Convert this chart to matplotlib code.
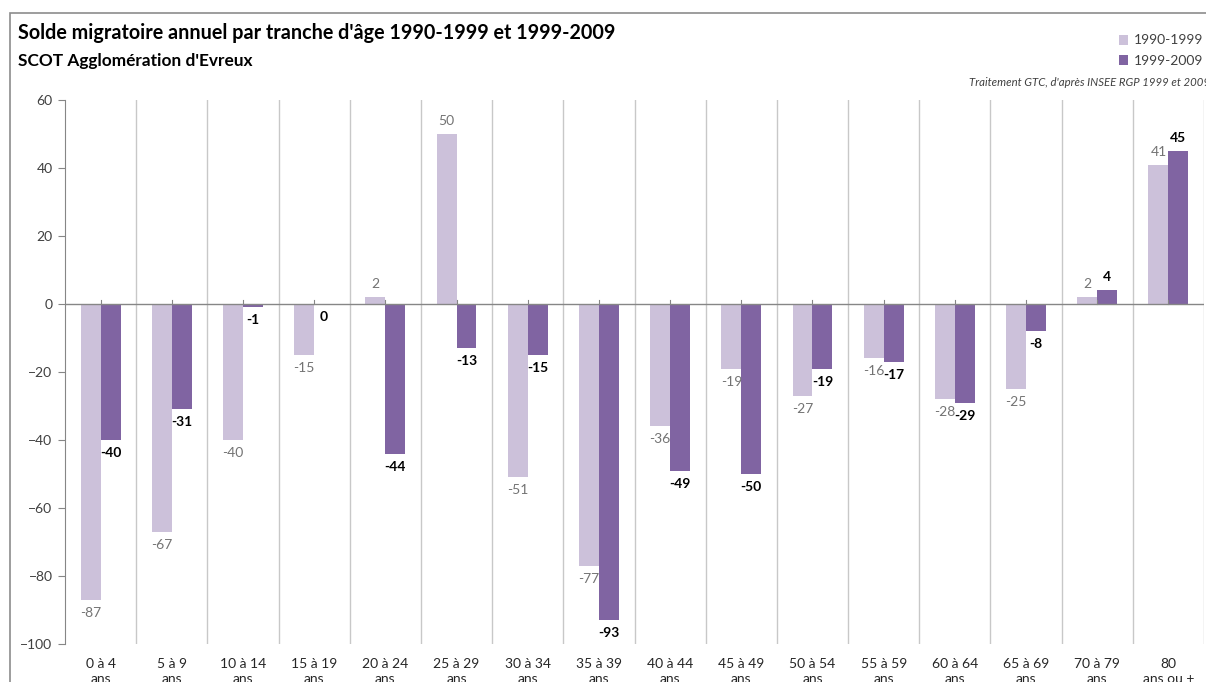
import matplotlib.pyplot as plt
import numpy as np
from matplotlib.patches import Rectangle

plt.rcParams['font.family'] = ['Lato', 'DejaVu Sans']

# Solde migratoire annuel, SCOT Agglomeration d'Evreux
tranches = ["0 à 4\nans", "5 à 9\nans", "10 à 14\nans", "15 à 19\nans", "20 à 24\nans",
            "25 à 29\nans", "30 à 34\nans", "35 à 39\nans", "40 à 44\nans", "45 à 49\nans",
            "50 à 54\nans", "55 à 59\nans", "60 à 64\nans", "65 à 69\nans", "70 à 79\nans",
            "80\nans ou +"]
solde_1990_1999 = [-87, -67, -40, -15, 2, 50, -51, -77, -36, -19, -27, -16, -28, -25, 2, 41]
solde_1999_2009 = [-40, -31, -1, 0, -44, -13, -15, -93, -49, -50, -19, -17, -29, -8, 4, 45]

light = "#ccc1da"
dark = "#8064a2"
axis_grey = "#868686"

fig = plt.figure(figsize=(12.06, 6.82), dpi=100)
ax = fig.add_axes([65 / 1206, 38 / 682, 1139 / 1206, 544 / 682])

x = np.arange(len(tranches))
w = 0.28
b1 = ax.bar(x - w / 2, solde_1990_1999, w, color=light, label="1990-1999", zorder=3)
b2 = ax.bar(x + w / 2, solde_1999_2009, w, color=dark, label="1999-2009", zorder=3)

# value labels: outside the bar end
for bars, vals, col, wt in [(b1, solde_1990_1999, "#737373", "normal"),
                            (b2, solde_1999_2009, "black", "bold")]:
    for rect, v in zip(bars, vals):
        cx = rect.get_x() + rect.get_width() / 2
        if v > 0:
            ax.annotate(str(v), (cx, v), xytext=(0, 5), textcoords="offset points",
                        ha="center", va="bottom", fontsize=10, color=col, fontweight=wt)
        else:
            ax.annotate(str(v), (cx, v), xytext=(0, -5), textcoords="offset points",
                        ha="center", va="top", fontsize=10, color=col, fontweight=wt)

ax.set_xlim(-0.5, len(tranches) - 0.5)
ax.set_ylim(-100, 60)
ax.set_yticks(np.arange(-100, 61, 20))
ax.tick_params(axis="y", labelsize=10, colors="#404040", length=5, color=axis_grey, pad=4)
ax.set_xticks(x)
ax.set_xticklabels(tranches, fontsize=10, color="#262626", linespacing=1.35)
ax.tick_params(axis="x", length=0, pad=10)

# vertical separators between categories
for b in np.arange(0.5, len(tranches), 1.0):
    ax.axvline(b, color="#c8c8c8", lw=1, zorder=1)
# small tick marks on the zero line at category centers
for c in x:
    ax.plot([c, c], [0, 1.2], color=axis_grey, lw=0.8, zorder=4)
ax.axhline(0, color=axis_grey, lw=1, zorder=4)

for s in ["top", "right", "bottom"]:
    ax.spines[s].set_visible(False)
ax.spines["left"].set_color(axis_grey)

fig.text(18 / 1206, 1 - 33 / 682, "Solde migratoire annuel par tranche d'âge 1990-1999 et 1999-2009",
         fontsize=14.2, fontweight="bold", va="center", color="black")
fig.text(18 / 1206, 1 - 61 / 682, "SCOT Agglomération d'Evreux",
         fontsize=12.4, fontweight="bold", va="center", color="black")
fig.text(1210 / 1206, 1 - 82 / 682, "Traitement GTC, d'après INSEE RGP 1999 et 2009",
         fontsize=8.2, style="italic", color="#404040", va="center", ha="right")

fig.legend(handles=[b1, b2], loc="upper left", bbox_to_anchor=(1106 / 1206, 1 - 22 / 682),
           frameon=False, fontsize=10, handlelength=0.7, handleheight=0.7,
           handletextpad=0.4, labelspacing=0.6, labelcolor="#404040")

# chart frame
fig.add_artist(Rectangle((10 / 1206, -0.1), 1.2, 1 - 13 / 682 + 0.1,
                         transform=fig.transFigure, fill=False, edgecolor="#8c8c8c", lw=1.2))

fig.savefig("out.png", dpi=100)
